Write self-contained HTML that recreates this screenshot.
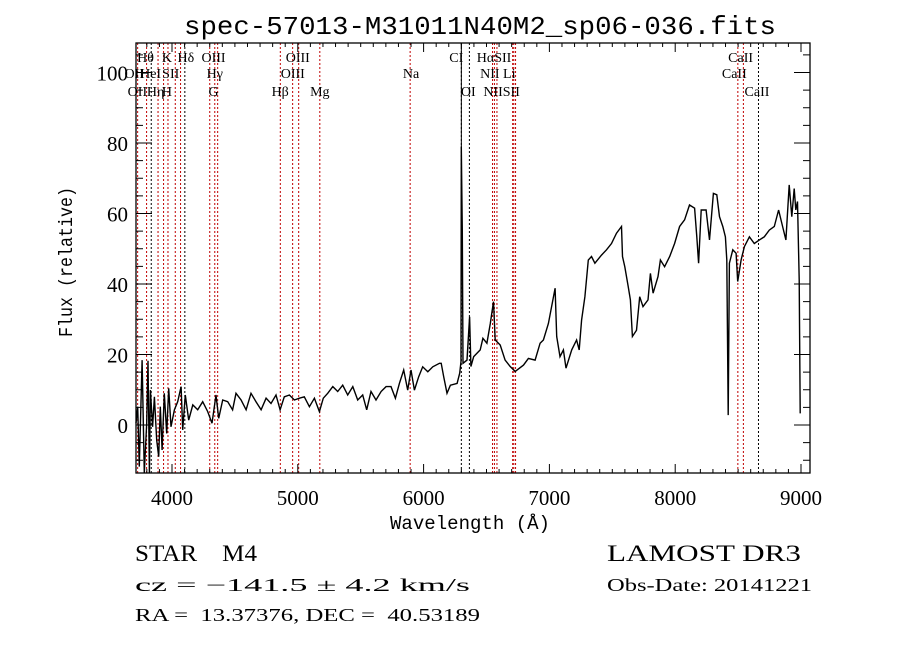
<!DOCTYPE html>
<html><head><meta charset="utf-8"><style>
html,body{margin:0;padding:0;background:#fff;}
svg{display:block;}
text{font-family:"Liberation Serif",serif;fill:#000;white-space:pre;}
.mono{font-family:"Liberation Mono",monospace;}
</style></head><body>
<svg id="chart" width="900" height="649" viewBox="0 0 900 649" xmlns="http://www.w3.org/2000/svg" xml:space="preserve">
<rect x="0" y="0" width="900" height="649" fill="#fff"/>
<text class="mono" x="480" y="34" font-size="26" text-anchor="middle" textLength="592" lengthAdjust="spacingAndGlyphs">spec-57013-M31011N40M2_sp06-036.fits</text>
<g id="lines"></g>
<g id="labels"></g>
<polyline id="spec" fill="none" stroke="#000" stroke-width="1.4"/>
<g id="axes"></g>
<text class="mono" x="470" y="529" font-size="19" text-anchor="middle" textLength="160" lengthAdjust="spacingAndGlyphs">Wavelength (Å)</text>
<text class="mono" x="0" y="0" font-size="19" text-anchor="middle" transform="translate(72,262) rotate(-90)" textLength="150" lengthAdjust="spacingAndGlyphs">Flux (relative)</text>
<text x="135" y="561" font-size="23" textLength="122" lengthAdjust="spacingAndGlyphs">STAR    M4</text>
<text x="607" y="561" font-size="23" textLength="194" lengthAdjust="spacingAndGlyphs">LAMOST DR3</text>
<text x="135" y="591" font-size="18" textLength="335" lengthAdjust="spacingAndGlyphs">cz = −141.5 ± 4.2 km/s</text>
<text x="607" y="591" font-size="18" textLength="205" lengthAdjust="spacingAndGlyphs">Obs-Date: 20141221</text>
<text x="135" y="621" font-size="18" textLength="345" lengthAdjust="spacingAndGlyphs">RA =  13.37376, DEC =  40.53189</text>
</svg>
<script>
const wave = [3714,3727,3740,3762,3780,3799,3809,3820,3828,3846,3860,3878,3894,3907,3921,3939,3958,3974,3992,4019,4045,4072,4085,4106,4133,4165,4204,4244,4284,4318,4350,4371,4403,4443,4482,4509,4549,4589,4628,4668,4708,4748,4787,4827,4859,4893,4933,4973,5013,5052,5092,5132,5172,5203,5238,5278,5317,5357,5397,5437,5476,5516,5548,5582,5622,5662,5702,5741,5776,5808,5842,5874,5900,5927,5961,5993,6033,6073,6126,6140,6160,6186,6213,6266,6287,6297,6300,6308,6313,6345,6366,6376,6398,6450,6471,6503,6530,6556,6569,6609,6648,6688,6728,6794,6833,6886,6926,6952,6992,7045,7058,7084,7111,7132,7177,7216,7237,7256,7282,7309,7335,7362,7414,7454,7494,7533,7573,7581,7599,7626,7644,7660,7692,7718,7744,7784,7803,7824,7863,7882,7916,7956,7995,8035,8075,8114,8154,8172,8186,8207,8246,8273,8304,8331,8352,8378,8399,8410,8421,8431,8458,8484,8497,8524,8550,8590,8629,8669,8708,8748,8788,8822,8854,8880,8906,8927,8946,8959,8972,8986,8994];
const flux = [0.5,5.2,-11.8,18.4,-13.7,0.5,18.2,-13.7,9.9,-0.5,8,-4.3,-9,5.2,-7.1,9,-2.4,10.4,-0.5,4.3,6.6,10.9,-1.4,8.5,1.4,5.7,4.3,6.6,3.8,0.5,8.5,1.9,7.1,6.6,4.3,9,7.1,4.3,9,6.6,4.3,7.6,6.1,8.5,4.3,8,8.5,7.1,7.6,8,5.2,7.6,3.8,7.6,9,10.9,9.5,11.3,8.5,10.9,7.1,8.5,4.3,9.5,7.1,9.5,10.9,10.9,7.6,11.8,15.6,9.9,15.6,9.9,13.7,16.5,15.1,16.5,17.5,17.5,13.7,9,11.3,11.8,14.7,18,79,55,17.5,18.4,30.7,16.6,19.4,21.3,24.6,23.2,28.8,35,24.1,22.7,18.4,16.6,15.2,17,18.9,18.4,23.2,24.1,28.8,38.8,25.1,19.4,21.3,16.1,21.3,24.1,21.3,29.8,36.4,46.8,47.8,45.9,48.2,49.7,51.5,54.4,56.3,47.8,44.9,39.3,35.5,25.1,26.9,36.4,33.6,35.5,43,37.4,42.1,46.8,44.9,47.8,51.5,56.3,58.2,62.4,61.5,53.4,45.9,61,61,52.5,65.7,65.3,59.1,56.3,53.4,46.8,2.8,45.9,49.7,48.7,40.7,46.8,50.6,53.4,51.5,52.5,53.4,55.3,56.3,61,56.3,52.5,68.1,59.1,67.1,61,63.4,41.2,3.3];
const lineWaves = [3727,3798,3835,3889,3933,3968,4026,4068,4102,4300,4340,4363,4861,4959,5007,5175,5893,6300,6364,6548,6563,6583,6708,6717,6731,8498,8542,8662];
const lineColors = ['r','r','k','r','r','r','r','r','k','r','r','r','r','r','r','r','r','k','k','r','r','r','r','r','r','r','r','k'];
const labelText = ['Hθ','K','Hδ','OIII','OIII','CI','HαSII','CaII','OII','HeI','SII','Hγ','OIII','Na','NII Li','CaII','OII','Hη','H','G','Hβ','Mg','OI','NIISII','CaII'];
const labelRow = [0,0,0,0,0,0,0,0,1,1,1,1,1,1,1,1,2,2,2,2,2,2,2,2,2];
const labelWave = [3790,3960,4110,4330,5000,6260,6560,8520,3700,3830,3990,4340,4960,5900,6590,8470,3725,3870,3960,4330,4860,5175,6355,6620,8650];
const xTicks = [4000,5000,6000,7000,8000,9000];
const yTicks = [0,20,40,60,80,100];

const L=136,R=810,T=43,B=473;
const xs = w => 172 + (w-4000)*0.1258;
const ys = f => 425 - f*3.525;
const NS='http://www.w3.org/2000/svg';
function mk(tag, attrs, parent){const e=document.createElementNS(NS,tag);for(const k in attrs)e.setAttribute(k,attrs[k]);parent.appendChild(e);return e;}

const spec=document.getElementById('spec');
spec.setAttribute('points', wave.map((w,i)=>xs(w).toFixed(1)+','+Math.max(T,Math.min(B,ys(flux[i]))).toFixed(1)).join(' '));

const lg=document.getElementById('lines');
lineWaves.forEach((w,i)=>{
  const l=mk('line',{x1:xs(w),x2:xs(w),y1:T,y2:B,stroke:lineColors[i]==='r'?'#c00000':'#000','stroke-width':1,'stroke-dasharray':'2,2'},lg);
  
  
});
const ok=mk('line',{x1:xs(6300),x2:xs(6300),y1:T,y2:ys(79),stroke:'#000','stroke-width':1},lg);



const lb=document.getElementById('labels');
const rowY=[62,78,96];
labelText.forEach((t,i)=>{
  const e=mk('text',{x:xs(labelWave[i]),y:rowY[labelRow[i]],'font-size':14,'text-anchor':'middle'},lb);
  e.textContent=t;
  
  
});

const ax=document.getElementById('axes');
const fr=mk('rect',{x:L,y:T,width:R-L,height:B-T,fill:'none',stroke:'#000','stroke-width':1.3},ax);


for(let w=3800;w<=9000;w+=100){
  const x=xs(w), maj=(w%1000===0), len=maj?9:4;
  mk('line',{x1:x,x2:x,y1:B,y2:B-len,stroke:'#000'},ax);
  mk('line',{x1:x,x2:x,y1:T,y2:T+len,stroke:'#000'},ax);
}
xTicks.forEach(v=>{
  const e=mk('text',{x:xs(v),y:505,'font-size':21,'text-anchor':'middle','font-family':'Liberation Sans, sans-serif'},ax);
  e.textContent=v;
  
  
});
for(let f=-10;f<=105;f+=5){
  const y=ys(f); if(y<T||y>B) continue;
  const maj=(f%20===0), len=maj?16:7;
  mk('line',{x1:L,x2:L+len,y1:y,y2:y,stroke:'#000'},ax);
  mk('line',{x1:R,x2:R-len,y1:y,y2:y,stroke:'#000'},ax);
}
yTicks.forEach(v=>{
  const e=mk('text',{x:128,y:ys(v)+8,'font-size':21,'text-anchor':'end','font-family':'Liberation Sans, sans-serif'},ax);
  e.textContent=v;
  
  
});
</script>
</body></html>
